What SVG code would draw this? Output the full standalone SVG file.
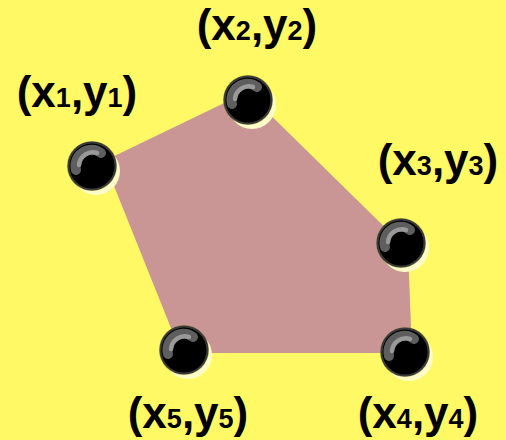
<svg xmlns="http://www.w3.org/2000/svg" width="506" height="440" viewBox="0 0 506 440">
  <style>
    .lbl { font-family: "Liberation Sans", Arial, sans-serif; font-weight: bold; font-size: 44px; fill: #000; text-anchor: middle; }
    .sub { font-size: 27px; }
  </style>
  <defs>
    <g id="ball">
      <circle cx="4" cy="5" r="24" fill="#fffcc8"/>
      <circle cx="0" cy="0" r="25" fill="#8a8a30" opacity="0.6"/>
      <circle cx="0" cy="0" r="23.5" fill="#000" stroke="#3a3a3a" stroke-width="2"/>
      <path d="M -16,4 A 16 16 0 0 1 9,-13" fill="none" stroke="#5e5e5e" stroke-width="10" stroke-linecap="round"/>
      <path d="M -13,-1 A 14 14 0 0 1 5,-13" fill="none" stroke="#999" stroke-width="4.5" stroke-linecap="round"/>
    </g>
  </defs>
  <rect width="506" height="440" fill="#fff966"/>
  <g id="polygon">
    <polygon points="104,161 247,92 408,250 412,353 181,353" fill="#c99595"/>
  </g>
  <g id="p1">
    <use href="#ball" x="92" y="166"/>
    <text class="lbl" x="77" y="107">(x<tspan class="sub">1</tspan>,y<tspan class="sub">1</tspan>)</text>
  </g>
  <g id="p2">
    <use href="#ball" x="248" y="100"/>
    <text class="lbl" x="257" y="40">(x<tspan class="sub">2</tspan>,y<tspan class="sub">2</tspan>)</text>
  </g>
  <g id="p3">
    <use href="#ball" x="401" y="243"/>
    <text class="lbl" x="438" y="175">(x<tspan class="sub">3</tspan>,y<tspan class="sub">3</tspan>)</text>
  </g>
  <g id="p4">
    <use href="#ball" x="405" y="352"/>
    <text class="lbl" x="418" y="428">(x<tspan class="sub">4</tspan>,y<tspan class="sub">4</tspan>)</text>
  </g>
  <g id="p5">
    <use href="#ball" x="184" y="350"/>
    <text class="lbl" x="188" y="428">(x<tspan class="sub">5</tspan>,y<tspan class="sub">5</tspan>)</text>
  </g>
</svg>
